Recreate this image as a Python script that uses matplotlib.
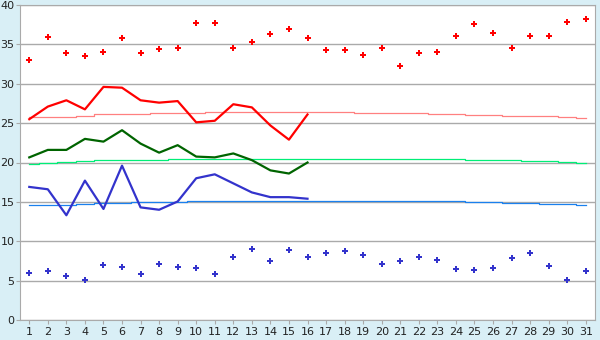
import numpy as np
import matplotlib
matplotlib.use("Agg")
import matplotlib.pyplot as plt

plt.rcParams["font.family"] = ["DejaVu Sans"]

days = list(range(1, 32))

# 실측 (1~16일)
obs_days = list(range(1, 17))
tmax = [25.5, 27.1, 27.9, 26.75, 29.6, 29.5, 27.9, 27.6, 27.8, 25.1,
        25.3, 27.4, 27.0, 24.7, 22.9, 26.1]
tmean = [20.65, 21.6, 21.6, 23.0, 22.65, 24.1, 22.4, 21.25, 22.2, 20.75,
         20.65, 21.15, 20.3, 19.0, 18.6, 20.0]
tmin = [16.9, 16.6, 13.3, 17.7, 14.1, 19.6, 14.3, 14.0, 15.05, 18.0,
        18.5, 17.35, 16.2, 15.6, 15.6, 15.4]

# 평년값
norm_max = [25.8, 25.8, 25.8, 25.95, 26.1, 26.1, 26.1, 26.25, 26.25, 26.25,
            26.35, 26.35, 26.35, 26.35, 26.35, 26.35, 26.35, 26.35, 26.25, 26.25,
            26.25, 26.25, 26.1, 26.1, 26.0, 26.0, 25.87, 25.87, 25.87, 25.74, 25.6]
norm_mean = [19.8, 19.94, 20.06, 20.19, 20.3, 20.3, 20.3, 20.3, 20.44, 20.44,
             20.5, 20.5, 20.5, 20.5, 20.5, 20.5, 20.5, 20.5, 20.5, 20.5,
             20.5, 20.4, 20.4, 20.4, 20.3, 20.3, 20.3, 20.2, 20.2, 20.06, 19.94]
norm_min = [14.56, 14.56, 14.56, 14.69, 14.8, 14.8, 14.94, 14.94, 14.94, 15.05,
            15.05, 15.05, 15.05, 15.05, 15.05, 15.05, 15.05, 15.05, 15.05, 15.05,
            15.05, 15.05, 15.05, 15.05, 14.94, 14.94, 14.8, 14.8, 14.69, 14.69, 14.56]

# 극값
rec_high = [33.0, 36.0, 33.9, 33.5, 34.0, 35.8, 33.9, 34.4, 34.5, 37.7,
            37.7, 34.5, 35.3, 36.3, 37.0, 35.8, 34.25, 34.25, 33.6, 34.5,
            32.2, 33.9, 34.0, 36.1, 37.55, 36.4, 34.5, 36.1, 36.1, 37.9, 38.2]
rec_low = [5.93, 6.18, 5.63, 5.03, 6.94, 6.77, 5.8, 7.07, 6.77, 6.56,
           5.8, 7.96, 8.97, 7.45, 8.85, 7.96, 8.47, 8.72, 8.21, 7.07,
           7.45, 7.96, 7.58, 6.43, 6.3, 6.56, 7.83, 8.47, 6.81, 5.03, 6.18]

fig = plt.figure(figsize=(6, 3.4), dpi=100, facecolor="#d9eff6")
ax = fig.add_axes([20 / 600, 20 / 340, 575 / 600, 315 / 340])
ax.set_facecolor("white")

ax.set_xlim(0.5, 31.5)
ax.set_ylim(0, 40)
ax.set_yticks(range(0, 41, 5))
ax.set_xticks(days)
ax.grid(axis="y", color="#aaaaaa", lw=1)
ax.set_axisbelow(True)
for s in ax.spines.values():
    s.set_color("#aaaaaa")
ax.tick_params(colors="#aaaaaa", labelcolor="#222222", labelsize=8, length=3)
ax.tick_params(axis="y", pad=1)
ax.tick_params(axis="x", pad=2)

ax.step(days, norm_max, where="mid", color="#ff8080", lw=0.9)
ax.step(days, norm_mean, where="mid", color="#00ee77", lw=0.9)
ax.step(days, norm_min, where="mid", color="#1a80ee", lw=0.9)

ax.plot(obs_days, tmax, color="#ff0000", lw=1.6)
ax.plot(obs_days, tmean, color="#006400", lw=1.6)
ax.plot(obs_days, tmin, color="#3333cc", lw=1.6)

ax.plot(days, rec_high, ls="none", marker="P", ms=4, color="#ff0000", mew=0)
ax.plot(days, rec_low, ls="none", marker="P", ms=4, color="#3333cc", mew=0)

fig.savefig("out.png", dpi=100, facecolor=fig.get_facecolor())
